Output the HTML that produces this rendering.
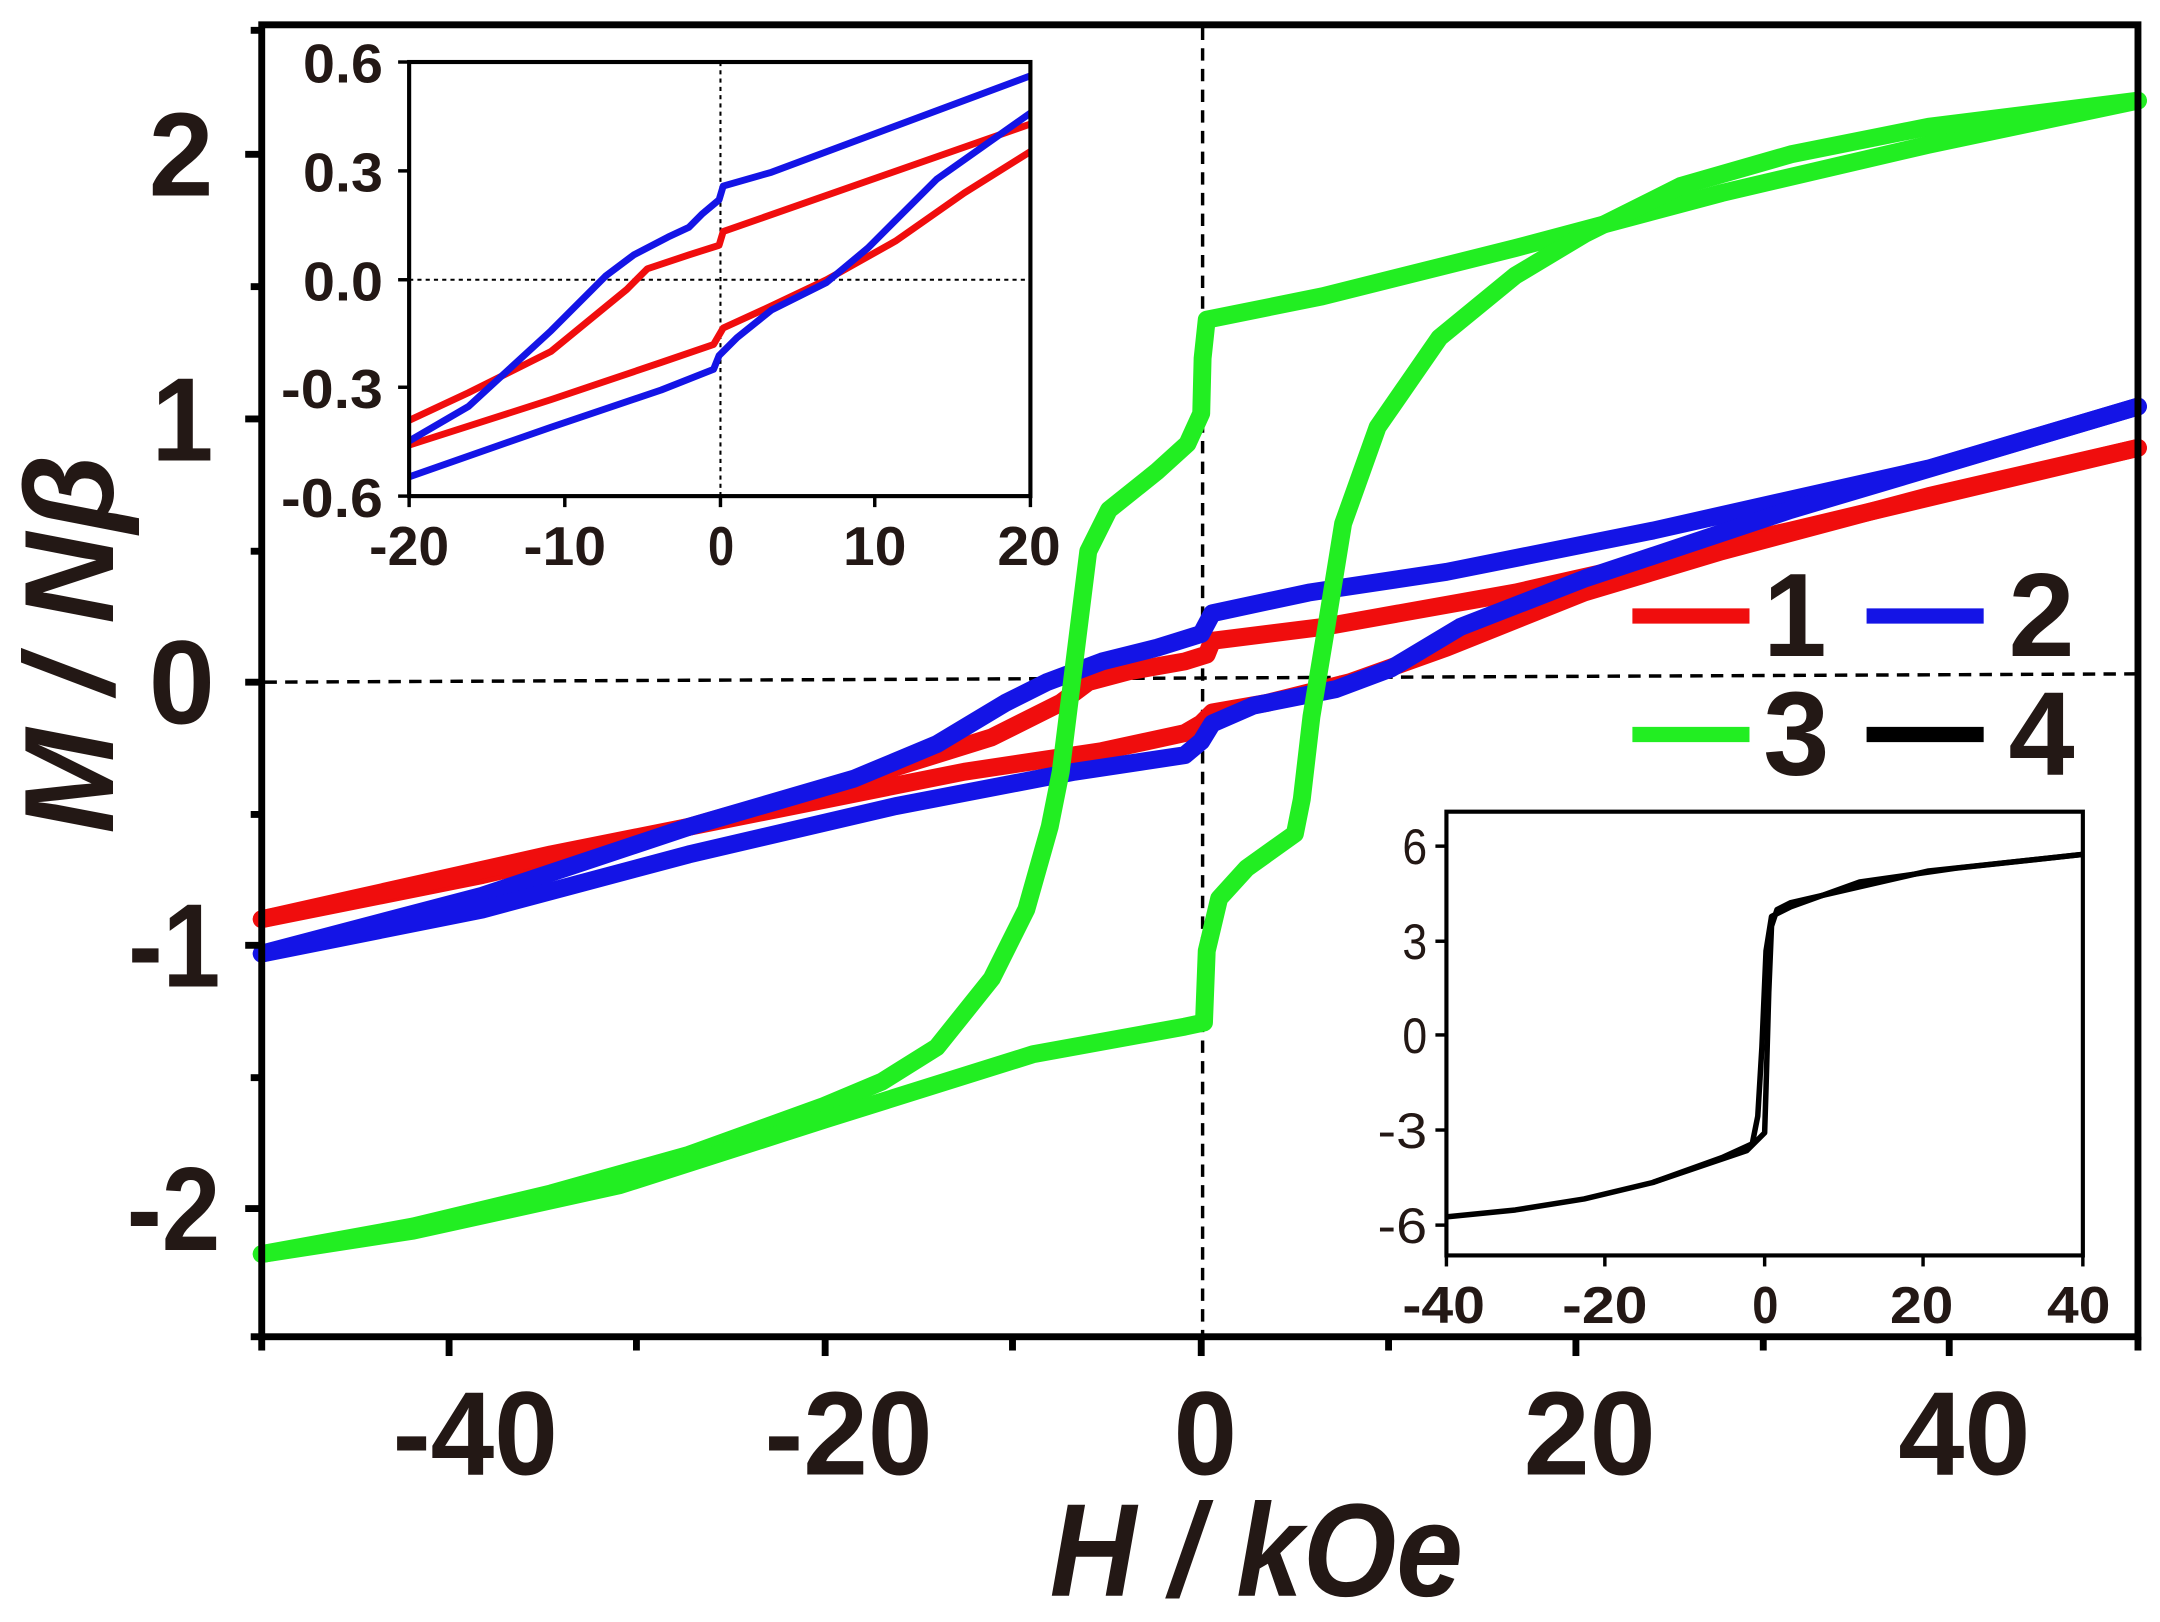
<!DOCTYPE html>
<html><head><style>html,body{margin:0;padding:0;background:#fff}svg{display:block}</style></head><body>
<svg width="2160" height="1622" viewBox="0 0 1568 1177" preserveAspectRatio="none" xmlns="http://www.w3.org/2000/svg" font-family="Liberation Sans, Arial, sans-serif">
<rect width="1568" height="1177" fill="#fff"/>
<line x1="873" y1="20" x2="873" y2="968" stroke="#000" stroke-width="2.5" stroke-dasharray="9,6"/>
<line x1="192" y1="495" x2="1550" y2="489" stroke="#000" stroke-width="2.5" stroke-dasharray="9,6"/>
<g fill="none" stroke-width="13" stroke-linejoin="round" stroke-linecap="round">
<polyline stroke="#f00d0d" points="1552,325 1300,385 1100,430 960,455 880,465 876,475 860,480 820,487 790,495 770,510 720,535 640,560 500,600 350,635 190,667"/>
<polyline stroke="#f00d0d" points="190,667 400,620 600,580 700,560 800,545 860,532 872,525 880,517 920,510 980,495 1050,470 1150,430 1250,400 1400,360 1552,325"/>
<polyline stroke="#1414e6" points="1552,295 1400,340 1200,385 1050,415 950,430 880,445 872,460 840,470 800,480 760,495 730,510 680,540 620,565 500,600 350,650 190,692"/>
<polyline stroke="#1414e6" points="190,692 350,660 500,620 650,585 780,560 860,548 872,538 880,525 910,512 970,500 1010,485 1060,455 1150,420 1300,370 1552,295"/>
<polyline stroke="#22ee22" points="1552,73 1400,105 1250,140 1100,180 960,215 876,232 873,260 872,300 862,322 840,342 805,370 790,400 780,480 770,560 762,600 745,660 720,710 680,760 640,785 597,803 500,838 400,866 300,890 190,910"/>
<polyline stroke="#22ee22" points="190,910 300,893 450,860 600,812 750,765 860,745 874,742 876,690 885,652 905,630 940,605 945,580 952,520 962,460 975,380 1000,310 1045,245 1100,200 1150,170 1220,135 1300,112 1400,92 1552,73"/>
</g>
<rect x="190" y="18" width="1362" height="952" fill="none" stroke="#000" stroke-width="5"/>
<g stroke="#000" stroke-width="5">
<line x1="178" y1="112" x2="190" y2="112"/><line x1="178" y1="304" x2="190" y2="304"/><line x1="178" y1="495" x2="190" y2="495"/><line x1="178" y1="686" x2="190" y2="686"/><line x1="178" y1="877" x2="190" y2="877"/>
<line x1="182" y1="208" x2="190" y2="208"/><line x1="182" y1="400" x2="190" y2="400"/><line x1="182" y1="591" x2="190" y2="591"/><line x1="182" y1="782" x2="190" y2="782"/><line x1="182" y1="22" x2="190" y2="22"/><line x1="182" y1="970" x2="190" y2="970"/>
<line x1="326" y1="970" x2="326" y2="984"/><line x1="599" y1="970" x2="599" y2="984"/><line x1="872" y1="970" x2="872" y2="984"/><line x1="1144" y1="970" x2="1144" y2="984"/><line x1="1415" y1="970" x2="1415" y2="984"/>
<line x1="190" y1="970" x2="190" y2="980"/><line x1="462" y1="970" x2="462" y2="980"/><line x1="735" y1="970" x2="735" y2="980"/><line x1="1008" y1="970" x2="1008" y2="980"/><line x1="1280" y1="970" x2="1280" y2="980"/><line x1="1552" y1="970" x2="1552" y2="980"/>
</g>
<g font-size="86" font-weight="bold" fill="#231815" lengthAdjust="spacingAndGlyphs">
<text x="108" y="142" textLength="47" lengthAdjust="spacingAndGlyphs">2</text>
<text x="110" y="334" textLength="45" lengthAdjust="spacingAndGlyphs">1</text>
<text x="108" y="525" textLength="48" lengthAdjust="spacingAndGlyphs">0</text>
<text x="93" y="716" textLength="67" lengthAdjust="spacingAndGlyphs">-1</text>
<text x="92" y="907" textLength="68" lengthAdjust="spacingAndGlyphs">-2</text>
<text x="285" y="1070" textLength="120" lengthAdjust="spacingAndGlyphs">-40</text>
<text x="555" y="1070" textLength="122" lengthAdjust="spacingAndGlyphs">-20</text>
<text x="852" y="1070" textLength="46" lengthAdjust="spacingAndGlyphs">0</text>
<text x="1106" y="1070" textLength="96" lengthAdjust="spacingAndGlyphs">20</text>
<text x="1378" y="1070" textLength="96" lengthAdjust="spacingAndGlyphs">40</text>
</g>
<text x="762" y="1158" font-size="96" font-weight="bold" font-style="italic" fill="#231815" textLength="300" lengthAdjust="spacingAndGlyphs">H / kOe</text>
<text transform="translate(82,605) rotate(-90)" font-size="92" font-weight="bold" font-style="italic" fill="#231815" textLength="275" lengthAdjust="spacingAndGlyphs">M / Nβ</text>
<g stroke-width="11">
<line x1="1185" y1="447" x2="1270" y2="447" stroke="#f00d0d"/>
<line x1="1355" y1="447" x2="1440" y2="447" stroke="#1414e6"/>
<line x1="1185" y1="533" x2="1270" y2="533" stroke="#22ee22"/>
<line x1="1355" y1="533" x2="1440" y2="533" stroke="#000"/>
</g>
<g font-size="86" font-weight="bold" fill="#231815">
<text x="1280" y="476" textLength="46" lengthAdjust="spacingAndGlyphs">1</text>
<text x="1458" y="476" textLength="48" lengthAdjust="spacingAndGlyphs">2</text>
<text x="1280" y="562" textLength="48" lengthAdjust="spacingAndGlyphs">3</text>
<text x="1458" y="562" textLength="48" lengthAdjust="spacingAndGlyphs">4</text>
</g>
<rect x="297" y="45" width="451" height="315" fill="#fff"/>
<line x1="523" y1="45" x2="523" y2="360" stroke="#000" stroke-width="1.5" stroke-dasharray="3,3"/>
<line x1="297" y1="203" x2="748" y2="203" stroke="#000" stroke-width="1.5" stroke-dasharray="3,3"/>
<g fill="none" stroke-width="5" stroke-linejoin="round">
<polyline stroke="#f00d0d" points="748,90 525,168 522,178 500,185 470,195 455,210 400,255 340,285 297,305"/>
<polyline stroke="#f00d0d" points="297,323 400,290 480,263 518,250 525,238 560,222 600,203 650,175 700,140 748,110"/>
<polyline stroke="#1414e6" points="748,55 560,125 525,135 522,145 510,155 500,165 485,172 460,185 440,200 400,240 340,295 297,320"/>
<polyline stroke="#1414e6" points="297,346 400,310 480,283 518,268 522,258 535,245 560,225 600,205 630,180 680,130 748,82"/>
</g>
<rect x="297" y="45" width="451" height="315" fill="none" stroke="#000" stroke-width="3"/>
<g stroke="#000" stroke-width="2.5">
<line x1="289" y1="45" x2="297" y2="45"/><line x1="289" y1="124" x2="297" y2="124"/><line x1="289" y1="203" x2="297" y2="203"/><line x1="289" y1="281" x2="297" y2="281"/><line x1="289" y1="360" x2="297" y2="360"/>
<line x1="297" y1="360" x2="297" y2="368"/><line x1="410" y1="360" x2="410" y2="368"/><line x1="523" y1="360" x2="523" y2="368"/><line x1="635" y1="360" x2="635" y2="368"/><line x1="748" y1="360" x2="748" y2="368"/>
</g>
<g font-size="40" font-weight="bold" fill="#231815">
<text x="220" y="60" textLength="58" lengthAdjust="spacingAndGlyphs">0.6</text>
<text x="220" y="139" textLength="58" lengthAdjust="spacingAndGlyphs">0.3</text>
<text x="220" y="218" textLength="58" lengthAdjust="spacingAndGlyphs">0.0</text>
<text x="204" y="296" textLength="74" lengthAdjust="spacingAndGlyphs">-0.3</text>
<text x="204" y="375" textLength="74" lengthAdjust="spacingAndGlyphs">-0.6</text>
<text x="268" y="410" textLength="58" lengthAdjust="spacingAndGlyphs">-20</text>
<text x="380" y="410" textLength="60" lengthAdjust="spacingAndGlyphs">-10</text>
<text x="514" y="410" textLength="19" lengthAdjust="spacingAndGlyphs">0</text>
<text x="612" y="410" textLength="46" lengthAdjust="spacingAndGlyphs">10</text>
<text x="724" y="410" textLength="46" lengthAdjust="spacingAndGlyphs">20</text>
</g>
<rect x="1050" y="589" width="462" height="322" fill="#fff"/>
<g fill="none" stroke="#000" stroke-width="4" stroke-linejoin="round">
<polyline points="1050,883 1100,878 1150,870 1200,858 1250,840 1272,830 1276,810 1279,760 1282,690 1286,665 1300,658 1350,640 1420,630 1512,620"/>
<polyline points="1512,620 1400,632 1300,655 1290,660 1286,672 1284,720 1282,790 1281,822 1268,835 1200,858"/>
</g>
<rect x="1050" y="589" width="462" height="322" fill="none" stroke="#000" stroke-width="3"/>
<g stroke="#000" stroke-width="2.5">
<line x1="1042" y1="614" x2="1050" y2="614"/><line x1="1042" y1="683" x2="1050" y2="683"/><line x1="1042" y1="751" x2="1050" y2="751"/><line x1="1042" y1="820" x2="1050" y2="820"/><line x1="1042" y1="889" x2="1050" y2="889"/>
<line x1="1050" y1="911" x2="1050" y2="919"/><line x1="1165" y1="911" x2="1165" y2="919"/><line x1="1281" y1="911" x2="1281" y2="919"/><line x1="1396" y1="911" x2="1396" y2="919"/><line x1="1512" y1="911" x2="1512" y2="919"/>
</g>
<g font-size="36" fill="#231815">
<text x="1018" y="627" textLength="18" lengthAdjust="spacingAndGlyphs">6</text>
<text x="1018" y="696" textLength="18" lengthAdjust="spacingAndGlyphs">3</text>
<text x="1018" y="764" textLength="18" lengthAdjust="spacingAndGlyphs">0</text>
<text x="1000" y="833" textLength="36" lengthAdjust="spacingAndGlyphs">-3</text>
<text x="1000" y="902" textLength="36" lengthAdjust="spacingAndGlyphs">-6</text>
</g>
<g font-size="38" font-weight="bold" fill="#231815">
<text x="1018" y="960" textLength="60" lengthAdjust="spacingAndGlyphs">-40</text>
<text x="1134" y="960" textLength="62" lengthAdjust="spacingAndGlyphs">-20</text>
<text x="1272" y="960" textLength="19" lengthAdjust="spacingAndGlyphs">0</text>
<text x="1372" y="960" textLength="46" lengthAdjust="spacingAndGlyphs">20</text>
<text x="1486" y="960" textLength="46" lengthAdjust="spacingAndGlyphs">40</text>
</g>
</svg>
</body></html>
